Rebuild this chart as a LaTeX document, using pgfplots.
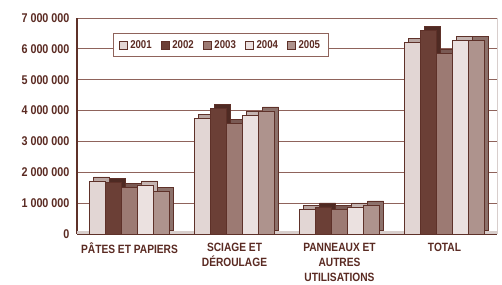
\documentclass[border=0pt]{standalone}
\usepackage{pgfplots}
\pgfplotsset{compat=1.18}
\usepackage{fontspec}
\setmainfont{Liberation Sans}[FakeStretch=0.85]
\definecolor{txt}{HTML}{5A2A22}
\definecolor{gridc}{HTML}{8F635B}
\definecolor{edge}{HTML}{5E3129}
\definecolor{cA}{HTML}{E2D6D4}
\definecolor{cB}{HTML}{6B3F36}
\definecolor{cC}{HTML}{9C7A73}
\definecolor{cD}{HTML}{EBE1E0}
\definecolor{cE}{HTML}{AE938D}
\definecolor{sA}{HTML}{B9A6A2}
\definecolor{sB}{HTML}{4E2A23}
\definecolor{sC}{HTML}{7A5A54}
\definecolor{sD}{HTML}{C4B4B1}
\definecolor{sE}{HTML}{8C716B}
\definecolor{floorc}{HTML}{D8CECC}
\pgfplotstableread{
x y
0 1720000
1 3740000
2 800000
3 6220000
}\dA
\pgfplotstableread{
x y
0 1660000
1 4070000
2 880000
3 6600000
}\dB
\pgfplotstableread{
x y
0 1500000
1 3580000
2 800000
3 5850000
}\dC
\pgfplotstableread{
x y
0 1590000
1 3850000
2 880000
3 6280000
}\dD
\pgfplotstableread{
x y
0 1370000
1 3990000
2 940000
3 6280000
}\dE
\begin{document}
\begin{tikzpicture}
\begin{axis}[
  name=ax,
  scale only axis,
  width=315pt, height=162pt,
  ybar,
  xmin=-0.5, xmax=3.5,
  ymin=0, ymax=7000000,
  scaled y ticks=false,
  axis lines=left,
  axis line style={-, draw=edge, line width=1pt},
  ytick={0,1000000,2000000,3000000,4000000,5000000,6000000,7000000},
  yticklabels={0,1 000 000,2 000 000,3 000 000,4 000 000,5 000 000,6 000 000,7 000 000},
  ymajorgrids,
  grid style={draw=gridc, line width=0.7pt},
  y tick style={draw=none},
  xtick={0,1,2,3},
  xticklabels={P\^ATES ET PAPIERS, SCIAGE ET\\D\'EROULAGE, PANNEAUX ET\\AUTRES\\UTILISATIONS, TOTAL},
  x tick label style={align=center, font=\bfseries\fontsize{9}{11.5}\selectfont, text=txt, yshift=-1pt},
  y tick label style={font=\bfseries\fontsize{9.5}{10}\selectfont, text=txt},
  x tick style={draw=none},
  extra x ticks={0.5,1.5,2.5},
  extra x tick labels={},
  extra x tick style={tick align=outside, major tick length=4pt, tick style={draw=edge, line width=0.8pt}},
  clip=false,
  legend style={at={(0.086,0.93)}, anchor=north west, draw=gridc, line width=0.7pt,
    font=\bfseries\fontsize{8.5}{9}\selectfont, text=txt, legend columns=5,
    /tikz/every even column/.append style={column sep=5pt},
    inner xsep=4pt, inner ysep=3pt},
  legend image code/.code={\draw[#1, line width=0.5pt] (0pt,-3pt) rectangle (6pt,3pt);},
]
% floor strip
\addplot[sharp plot, fill=floorc, draw=none, forget plot] coordinates {(-0.5,0) (3.5,0) (3.5,100000) (-0.5,100000)} -- cycle;
% right border
\addplot[sharp plot, draw=floorc, line width=0.7pt, forget plot] coordinates {(3.5,0) (3.5,7000000)};
% series
\addplot[bar shift=-24pt, bar width=12pt, fill=sA, draw=edge, line width=0.5pt, xshift=3pt, yshift=3pt, forget plot] table {\dA};
\addplot[bar shift=-24pt, bar width=12pt, fill=cA, draw=edge, line width=0.5pt] table {\dA};
\addplot[bar shift=-12pt, bar width=12pt, fill=sB, draw=edge, line width=0.5pt, xshift=3pt, yshift=3pt, forget plot] table {\dB};
\addplot[bar shift=-12pt, bar width=12pt, fill=cB, draw=edge, line width=0.5pt] table {\dB};
\addplot[bar shift=0pt, bar width=12pt, fill=sC, draw=edge, line width=0.5pt, xshift=3pt, yshift=3pt, forget plot] table {\dC};
\addplot[bar shift=0pt, bar width=12pt, fill=cC, draw=edge, line width=0.5pt] table {\dC};
\addplot[bar shift=12pt, bar width=12pt, fill=sD, draw=edge, line width=0.5pt, xshift=3pt, yshift=3pt, forget plot] table {\dD};
\addplot[bar shift=12pt, bar width=12pt, fill=cD, draw=edge, line width=0.5pt] table {\dD};
\addplot[bar shift=24pt, bar width=12pt, fill=sE, draw=edge, line width=0.5pt, xshift=3pt, yshift=3pt, forget plot] table {\dE};
\addplot[bar shift=24pt, bar width=12pt, fill=cE, draw=edge, line width=0.5pt] table {\dE};
\legend{2001,2002,2003,2004,2005}
\end{axis}
\pgfresetboundingbox
\path ([xshift=-57.75pt,yshift=-38.25pt]ax.south west) rectangle ([xshift=3.75pt,yshift=13.5pt]ax.north east);
\end{tikzpicture}
\end{document}
